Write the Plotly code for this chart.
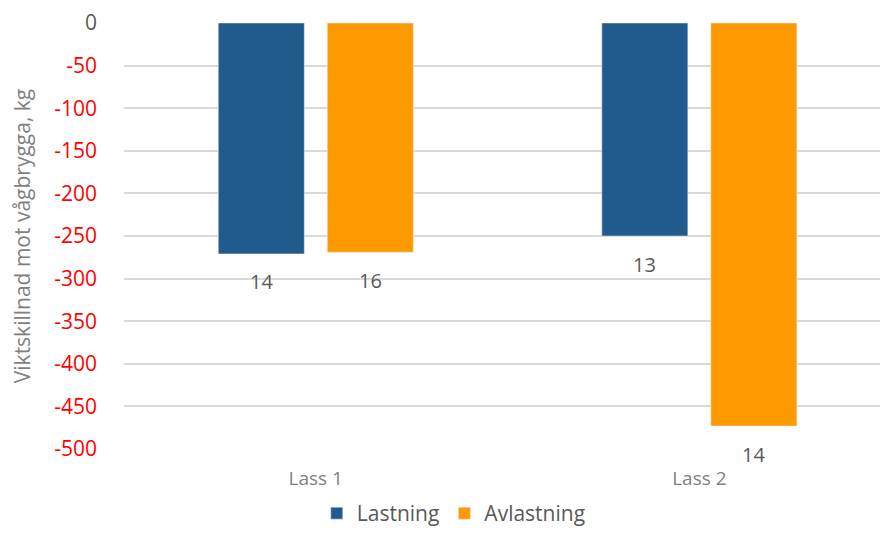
import plotly.graph_objects as go

categories = ["Lass 1", "Lass 2"]
lastning = [-271, -250]
avlastning = [-269, -473]
lastning_labels = ["14", "13"]
avlastning_labels = ["16", "14"]
tick_vals = [0, -50, -100, -150, -200, -250, -300, -350, -400, -450, -500]

BLUE = "#215A8C"
ORANGE = "#FF9900"
FONT = "Open Sans"

fig = go.Figure()
fig.add_trace(go.Bar(name="Lastning", x=categories, y=lastning, marker_color=BLUE))
fig.add_trace(go.Bar(name="Avlastning", x=categories, y=avlastning, marker_color=ORANGE))

annotations = []
for cat, v, t in zip(categories, lastning, lastning_labels):
    annotations.append(dict(x=cat, y=v, text=t, showarrow=False, xshift=-54.5, yshift=-28,
                            yanchor="middle", font=dict(family=FONT, size=20, color="#595959")))
for cat, v, t in zip(categories, avlastning, avlastning_labels):
    annotations.append(dict(x=cat, y=v, text=t, showarrow=False, xshift=54.5, yshift=-28,
                            yanchor="middle", font=dict(family=FONT, size=20, color="#595959")))

ticktext = []
for v in tick_vals:
    color = "#595959" if v == 0 else "#FF0000"
    ticktext.append(f'<span style="color:{color}">{v}</span>')

fig.update_layout(
    width=880, height=534,
    margin=dict(l=124, r=0, t=23, b=85, autoexpand=False),
    paper_bgcolor="white", plot_bgcolor="white",
    barmode="group", bargap=0.4316, bargroupgap=0.211,
    font=dict(family=FONT, size=20, color="#595959"),
    annotations=annotations,
    showlegend=True,
    legend=dict(orientation="h", x=0.255, xanchor="left", yref="container", y=0.0, yanchor="bottom",
                font=dict(family=FONT, size=21, color="#595959"), itemwidth=30),
    xaxis=dict(range=[-0.5, 1.471], showgrid=False, showline=False, zeroline=False,
               tickfont=dict(family=FONT, size=19, color="#7F7F7F"), ticklabelstandoff=16),
    yaxis=dict(range=[-500, 0], tickvals=tick_vals, ticktext=ticktext,
               showgrid=True, gridcolor="#D9D9D9", gridwidth=1.5, zeroline=False, showline=False,
               tickfont=dict(family=FONT, size=21), ticklabelstandoff=26,
               title=dict(text="Viktskillnad mot vågbrygga, kg",
                          font=dict(family=FONT, size=21, color="#7F7F7F"), standoff=17)),
)

fig.write_html("out.html")
